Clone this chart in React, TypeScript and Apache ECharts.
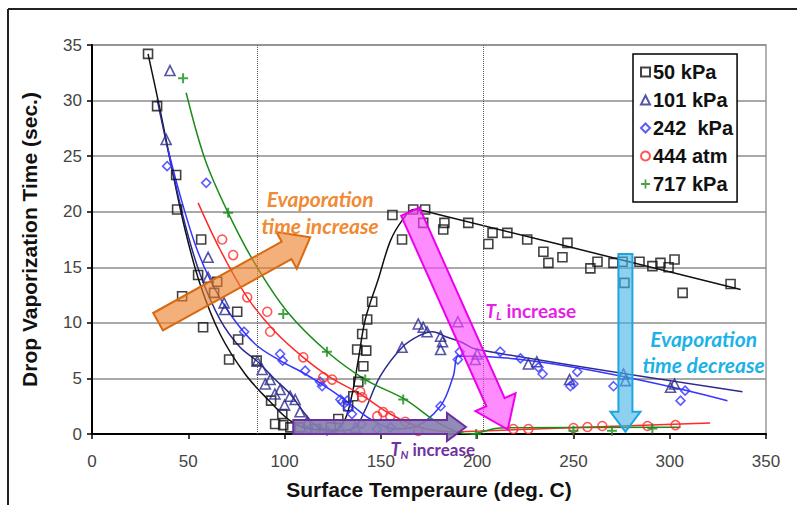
import React, { useEffect, useRef } from "react";
import * as echarts from "echarts";

// ---- data ----
const seriesNames = ["50 kPa", "101 kPa", "242  kPa", "444 atm", "717 kPa"];
const xTicks = { min: 0, max: 350, interval: 50 };
const yTicks = { min: 0, max: 35, interval: 5 };
const dottedX = [86, 203];

const p50 = [[29.1,34.2],[33.8,29.5],[43.7,23.3],[44.2,20.2],[56.7,17.5],[55.1,14.3],[65.0,13.7],[46.8,12.4],[63.4,12.7],[57.7,9.6],[75.4,11.0],[75.9,8.5],[71.2,6.7],[85.5,6.6],[93.0,3.0],[98.8,1.8],[95.1,0.9],[99.3,0.8],[103,0.6],[108,0.6],[116,0.45],[124,0.6],[127.9,1.35],[133,2.5],[135.7,3.4],[138.3,4.7],[140.9,6.1],[142.4,7.5],[137.7,7.6],[140.3,9.0],[142.9,10.3],[145.5,11.9],[161,17.5],[156,19.7],[166.8,20.2],[173,20.2],[172,19.0],[183,19.0],[182.4,18.4],[195.4,19.0],[208,18.1],[205.8,17.1],[215.7,18.1],[226,17.5],[234.4,16.4],[237,15.4],[246.9,17.2],[244.3,15.9],[258.8,14.9],[262.5,15.5],[270.8,15.4],[275.5,15.5],[276.5,13.6],[284.3,15.5],[291,15.1],[295.2,15.4],[299.4,15.0],[302.5,15.7],[306.7,12.7],[331.6,13.5]];
const p101 = [[40.5,32.7],[38.5,26.5],[60.3,15.9],[60.3,14.1],[68.6,11.8],[69,11.2],[85.8,6.55],[88.4,5.8],[90,4.5],[92.5,4.9],[95,3.6],[97.7,4.0],[100,2.6],[102.9,3.4],[105.5,3.1],[108,2.0],[111.7,1.1],[118.5,0.45],[129,0.45],[136.7,0.6],[161,7.8],[169.4,9.9],[172,9.6],[174,9.2],[181,8.8],[182,8.3],[181,7.6],[190,10.1],[200,7.2],[199,6.7],[226.6,6.3],[231,6.5],[248,4.9],[276,5.4],[277,4.8],[300.4,4.2],[302.5,4.5]];
const p242 = [[39,24.1],[59.3,22.6],[79,9.2],[97.7,7.2],[99,6.6],[110.7,5.7],[118.5,4.7],[119.5,4.3],[129,3.1],[130,2.9],[132.5,3.0],[133,2.3],[135,1.8],[140,0.9],[113,0.4],[122,0.3],[148,0.45],[155,0.6],[181,2.5],[191,7.4],[190,6.7],[212,7.4],[222.5,6.8],[231.8,6.0],[234,5.4],[248.4,4.3],[250,4.5],[252,5.6],[270.8,4.3],[308,3.9],[305.6,3.0]];
const p444 = [[67.6,17.5],[73.3,16.1],[80.6,12.3],[91,11.0],[92.5,9.2],[109.7,6.9],[120.1,5.1],[124.7,4.9],[139.3,3.8],[140.3,3.3],[148.1,1.6],[151.2,1.97],[154.9,1.6],[162.7,1.1],[169.4,0.27],[218.8,0.45],[226.6,0.45],[250,0.54],[257.3,0.63],[265,0.72],[288.5,0.72],[303,0.8]];
const p717 = [[47.3,32.0],[70.7,19.9],[99.3,10.8],[122,7.4],[141.9,4.9],[161.6,3.1],[199.5,0],[250,0.3],[270,0.3],[291,0.5]];

const fit50 = [[29.1,34.2],[35.3,29.2],[41.6,23.8],[48.3,18.4],[56.1,13.5],[66.5,9.0],[79.5,5.4],[92.5,2.9],[102.9,1.2],[113.3,0.45],[126.3,0.36],[131.5,1.35],[135.1,3.6],[138.3,6.7],[141.9,10.3],[148.6,13.9],[155,17.4],[161,19.2],[167,20.2],[180.9,19.7],[336.8,13.0]];
const fit101 = [[33.8,30.1],[40.5,24.7],[48.3,18.9],[56.1,14.4],[66.5,10.3],[76.9,7.8],[85.8,6.55],[95.1,4.9],[102.9,3.6],[110.7,1.8],[117.5,0.6],[128.9,0.3],[136.7,0.6],[141.9,2.2],[149.7,5.2],[161.1,7.8],[169.4,8.8],[176.7,9.2],[184.5,8.7],[191.3,8.3],[200.1,7.6],[337.8,3.8]];
const fit242 = [[39.5,25.6],[45.7,21.5],[53.5,17.1],[61.3,13.9],[71.7,10.8],[84.7,8.1],[97.7,6.6],[110.7,5.4],[123.7,4.0],[134.1,2.7],[144.5,1.35],[157.5,0.45],[166.8,0.6],[180.9,2.5],[187.6,5.2],[190.2,7.0],[196.5,7.0],[330,3.0]];
const fit444 = [[55.1,20.8],[66.5,16.6],[80.6,12.3],[95.1,9.2],[109.7,6.9],[123.7,5.1],[139.3,3.6],[154.9,1.8],[170.5,0.6],[186,0.2],[201.7,0.27],[321,1.0]];
const fit717 = [[48.9,30.7],[58.7,24.7],[70.7,19.9],[84.7,15.3],[101.4,11.0],[122.1,7.4],[141.9,4.9],[162.7,3.1],[180.9,0.9],[196.5,0],[212,0.55],[305.6,0.6]];

// annotation arrows in data coordinates: [from, to]
const arrowOrange = [[34.3, 10.1], [113.3, 17.7]];
const arrowMagenta = [[165.3, 20.0], [215.9, 0.4]];
const arrowCyan = [[277, 16.2], [277, 0.2]];
const arrowPurple = [[104.5, 0.63], [194.2, 0.63]];

const colors = ["#111111", "#2b2b8f", "#3535ff", "#ff2a2a", "#1a8c1a"];
const PLUS = "path://M4,0h2v10h-2z M0,4h10v2h-10z";

function arrowPts(p1: number[], p2: number[], sw: number, hw: number, hl: number) {
  const dx = p2[0] - p1[0], dy = p2[1] - p1[1];
  const L = Math.hypot(dx, dy);
  const ux = dx / L, uy = dy / L;
  const nx = -uy, ny = ux;
  const bx = p2[0] - ux * hl, by = p2[1] - uy * hl;
  return [
    [p1[0] + nx * sw, p1[1] + ny * sw],
    [bx + nx * sw, by + ny * sw],
    [bx + nx * hw, by + ny * hw],
    [p2[0], p2[1]],
    [bx - nx * hw, by - ny * hw],
    [bx - nx * sw, by - ny * sw],
    [p1[0] - nx * sw, p1[1] - ny * sw],
  ];
}

export default function App() {
  const ref = useRef<HTMLDivElement>(null);
  useEffect(() => {
    if (!ref.current) return;
    const chart = echarts.init(ref.current, null, { renderer: "svg" });
    const font = "Liberation Sans, Arial, sans-serif";
    const scat = (name: string, data: number[][], symbol: string, size: number, c: string, filled = false) => ({
      type: "scatter",
      name,
      data,
      symbol,
      symbolSize: size,
      z: 3,
      itemStyle: filled
        ? { color: c, borderWidth: 0 }
        : { color: "rgba(255,255,255,0)", borderColor: c, borderWidth: 1.6 },
    });
    const line = (name: string, data: number[][], c: string, extra: any = {}) => ({
      type: "line",
      name,
      data,
      smooth: 0.35,
      showSymbol: false,
      symbol: "none",
      z: 2,
      lineStyle: { color: c, width: 1.5 },
      ...extra,
    });
    chart.setOption({
      animation: false,
      backgroundColor: "#fff",
      grid: { left: 92, right: 31, top: 45, bottom: 70, show: true, borderColor: "#999", borderWidth: 1.5 },
      xAxis: {
        type: "value",
        min: xTicks.min, max: xTicks.max, interval: xTicks.interval,
        name: "Surface Temperaure (deg. C)",
        nameLocation: "middle",
        nameGap: 45,
        nameTextStyle: { fontFamily: font, fontWeight: "bold", fontSize: 21, color: "#111" },
        axisLine: { show: true, lineStyle: { color: "#000", width: 2 } },
        axisTick: { show: true, length: 5, lineStyle: { color: "#000", width: 1.5 } },
        axisLabel: { fontFamily: font, fontSize: 17, color: "#444", margin: 19 },
        splitLine: { show: false },
      },
      yAxis: {
        type: "value",
        min: yTicks.min, max: yTicks.max, interval: yTicks.interval,
        name: "Drop Vaporization Time (sec.)",
        nameLocation: "middle",
        nameGap: 52,
        nameTextStyle: { fontFamily: font, fontWeight: "bold", fontSize: 21, color: "#111" },
        axisLine: { show: true, lineStyle: { color: "#000", width: 2 } },
        axisTick: { show: true, length: 5, lineStyle: { color: "#000", width: 1.5 } },
        axisLabel: { fontFamily: font, fontSize: 17, color: "#444", margin: 10 },
        splitLine: { show: true, lineStyle: { color: "#8c8c8c", width: 1.5 } },
      },
      legend: {
        data: seriesNames,
        orient: "vertical",
        left: 633,
        top: 54,
        padding: [8, 4, 8, 7],
        itemGap: 8,
        itemWidth: 9,
        itemHeight: 9,
        backgroundColor: "#fff",
        borderColor: "#000",
        borderWidth: 1.5,
        textStyle: { fontFamily: font, fontWeight: "bold", fontSize: 20, color: "#111", padding: [0, 0, 0, -2] },
      },
      series: [
        line("fit50", fit50, colors[0], {
          markLine: {
            silent: true,
            symbol: "none",
            label: { show: false },
            lineStyle: { type: "dotted", color: "#555", width: 1 },
            data: dottedX.map((x) => ({ xAxis: x })),
          },
        }),
        line("fit101", fit101, colors[1]),
        line("fit242", fit242, colors[2]),
        line("fit444", fit444, colors[3]),
        line("fit717", fit717, colors[4]),
        scat(seriesNames[0], p50, "rect", 9, colors[0]),
        scat(seriesNames[1], p101, "triangle", 10, colors[1]),
        scat(seriesNames[2], p242, "diamond", 9, colors[2]),
        scat(seriesNames[3], p444, "circle", 9, colors[3]),
        scat(seriesNames[4], p717, PLUS, 10, colors[4], true),
      ],
    });

    const px = (p: number[]) => chart.convertToPixel({ gridIndex: 0 }, p) as number[];
    const arrow = (a: number[][], sw: number, hw: number, hl: number, fill: string, stroke: string) => ({
      type: "polygon",
      z: 100,
      shape: { points: arrowPts(px(a[0]), px(a[1]), sw, hw, hl) },
      style: { fill, stroke, lineWidth: 2 },
    });
    const calib = "Lato, 'Open Sans', sans-serif";
    const o1 = px([118.5, 20.0]);
    const m1 = px([204.3, 11.1]);
    const c1 = px([317.6, 7.45]);
    const n1 = px([155, -1.35]);
    chart.setOption({
      graphic: [
        { type: "line", z: 100, shape: { x1: 8, y1: 9, x2: 797, y2: 9 }, style: { stroke: "#222", lineWidth: 2 } },
        { type: "line", z: 100, shape: { x1: 8, y1: 9, x2: 8, y2: 505 }, style: { stroke: "#222", lineWidth: 2 } },
        arrow(arrowOrange, 10, 21, 27, "rgba(236,128,40,0.62)", "#d9690f"),
        arrow(arrowMagenta, 10, 22, 30, "rgba(255,70,255,0.62)", "#ee00ee"),
        arrow(arrowCyan, 7, 15, 20, "rgba(70,180,230,0.62)", "#1ea5e0"),
        arrow(arrowPurple, 7, 14, 19, "rgba(135,125,175,0.9)", "#6a2fa0"),
        {
          type: "text", z: 101, x: o1[0], y: o1[1],
          style: {
            text: "Evaporation\ntime increase", align: "center", verticalAlign: "middle",
            fill: "#f08a34", font: `italic bold 21px ${calib}`, lineHeight: 27,
          },
        },
        {
          type: "text", z: 101, x: c1[0], y: c1[1],
          style: {
            text: "Evaporation\ntime decrease", align: "center", verticalAlign: "middle",
            fill: "#1cb2e8", font: `italic bold 21px ${calib}`, lineHeight: 26,
          },
        },
        {
          type: "text", z: 101, x: m1[0], y: m1[1],
          style: {
            text: "{t|T}{s|L}{r| increase}", align: "left", verticalAlign: "middle",
            fill: "#e61ee6",
            rich: {
              t: { font: `italic bold 19px ${calib}`, fill: "#e61ee6" },
              s: { font: `italic bold 12px ${calib}`, fill: "#e61ee6", padding: [10, 0, 0, 0] },
              r: { font: `bold 19px ${calib}`, fill: "#e61ee6" },
            },
          },
        },
        {
          type: "text", z: 101, x: n1[0], y: n1[1],
          style: {
            text: "{t|T}{s|N}{r| increase}", align: "left", verticalAlign: "middle",
            fill: "#7030a0",
            rich: {
              t: { font: `italic bold 18px ${calib}`, fill: "#7030a0" },
              s: { font: `italic bold 11px ${calib}`, fill: "#7030a0", padding: [10, 0, 0, 0] },
              r: { font: `bold 17px ${calib}`, fill: "#7030a0" },
            },
          },
        },
      ],
    });
    return () => chart.dispose();
  }, []);
  return <div ref={ref} style={{ position: "fixed", left: 0, top: 0, width: 797, height: 505 }} />;
}
